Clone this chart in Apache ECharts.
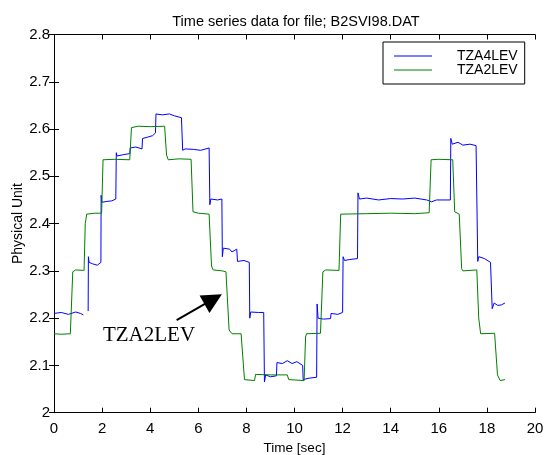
<!DOCTYPE html>
<html><head><meta charset="utf-8">
<script src="https://cdn.jsdelivr.net/npm/echarts@6/dist/echarts.min.js"></script>
<style>html,body{margin:0;padding:0;background:#fff}#c{width:544px;height:455px}</style>
</head><body><div id="c"></div>
<script>
const titleText = "Time series data for file; B2SVI98.DAT";
const xName = "Time [sec]";
const yName = "Physical Unit";
const seriesNames = ["TZA4LEV", "TZA2LEV"];
const xTicks = [0, 2, 4, 6, 8, 10, 12, 14, 16, 18, 20];
const yTicks = [2, 2.1, 2.2, 2.3, 2.4, 2.5, 2.6, 2.7, 2.8];

const blueT = [0,0.3,0.6,0.9,1.1,1.22,1.3,1.42,1.43,1.46,1.6,1.8,1.95,1.96,1.99,2.2,2.4,2.57,2.59,2.62,2.9,3.15,3.17,3.4,3.66,3.68,3.75,3.9,4.1,4.22,4.24,4.5,4.8,5.0,5.3,5.35,5.45,5.8,6.1,6.45,6.48,6.52,6.8,6.98,7.0,7.04,7.3,7.4,7.6,7.63,7.9,8.12,8.14,8.18,8.5,8.72,8.75,8.8,9.0,9.25,9.27,9.5,9.7,9.9,10.1,10.34,10.36,10.6,10.92,10.94,10.98,11.2,11.5,11.52,11.8,12.0,12.02,12.08,12.3,12.62,12.64,12.7,13.0,13.5,14.0,14.5,15.0,15.5,15.7,15.9,16.48,16.5,16.56,16.8,17.0,17.3,17.55,17.62,17.66,17.9,18.15,18.22,18.3,18.45,18.6,18.75];
const blueV = [2.21,2.212,2.208,2.213,2.21,2.207,'-',2.215,2.33,2.318,2.315,2.312,2.318,2.46,2.445,2.447,2.448,2.452,2.55,2.543,2.546,2.548,2.56,2.562,2.558,2.58,2.576,2.583,2.586,2.592,2.632,2.63,2.632,2.628,2.624,2.555,2.558,2.557,2.555,2.56,2.44,2.452,2.45,2.452,2.33,2.348,2.346,2.34,2.346,2.32,2.322,2.318,2.2,2.213,2.212,2.212,2.065,2.08,2.076,2.078,2.106,2.104,2.11,2.104,2.108,2.1,2.07,2.073,2.075,2.23,2.2,2.198,2.199,2.21,2.208,2.212,2.33,2.322,2.324,2.326,2.465,2.452,2.454,2.45,2.453,2.452,2.454,2.45,2.446,2.45,2.45,2.58,2.568,2.572,2.566,2.568,2.565,2.32,2.33,2.326,2.318,2.22,2.232,2.227,2.228,2.232];

const greenT = [0,0.3,0.68,0.78,0.9,1.25,1.3,1.36,1.7,1.98,2.04,2.5,3.15,3.22,3.5,4.0,4.6,4.68,4.75,5.2,5.7,5.78,6.0,6.45,6.55,6.62,7.0,7.15,7.28,7.4,7.78,7.92,8.34,8.38,9.0,9.7,9.76,10.4,10.46,10.5,11.08,11.18,11.3,11.85,11.92,12.0,13.0,14.0,15.0,15.6,15.68,16.0,16.58,16.66,16.85,16.95,17.0,17.58,17.66,17.74,18.32,18.44,18.55,18.75];
const greenV = [2.167,2.166,2.167,2.298,2.302,2.301,2.4,2.42,2.422,2.422,2.535,2.536,2.535,2.603,2.606,2.605,2.606,2.545,2.535,2.537,2.536,2.425,2.422,2.42,2.31,2.302,2.3,2.298,2.175,2.167,2.167,2.07,2.068,2.081,2.08,2.08,2.07,2.068,2.16,2.167,2.168,2.298,2.302,2.301,2.42,2.422,2.421,2.422,2.421,2.423,2.535,2.536,2.535,2.425,2.42,2.305,2.3,2.302,2.2,2.167,2.168,2.08,2.068,2.07];

const annoText = "TZA2LEV";
const arrowFrom = [5.10, 2.196];
const arrowTo = [6.62, 2.240];
const annoAt = [3.95, 2.164];

const pairs = (t, v) => t.map((x, i) => [x, v[i]]);
const font = "'Liberation Sans', Arial, sans-serif";
const chart = echarts.init(document.getElementById('c'), null, {renderer: 'canvas'});
const xCommon = {type: 'value', min: xTicks[0], max: xTicks[xTicks.length-1], interval: 2,
  splitLine: {show: false}, axisLine: {show: true, lineStyle: {color: '#000', width: 1}},
  axisTick: {show: true, inside: true, length: 5, lineStyle: {color: '#000'}}};
const yCommon = {type: 'value', min: yTicks[0], max: yTicks[yTicks.length-1], interval: 0.1,
  splitLine: {show: false}, axisLine: {show: true, lineStyle: {color: '#000', width: 1}},
  axisTick: {show: true, inside: true, length: 5, lineStyle: {color: '#000'}}};
chart.setOption({
  animation: false,
  backgroundColor: '#fff',
  title: {text: titleText, left: 291, top: 9, textAlign: 'center',
    textStyle: {fontFamily: font, fontSize: 14.5, fontWeight: 'normal', color: '#000'}},
  grid: {left: 54, right: 9, top: 34.5, bottom: 42.3, containLabel: false, outerBoundsMode: 'none'},
  legend: {orient: 'vertical', left: 383, top: 42, data: seriesNames,
    backgroundColor: '#fff', borderColor: '#000', borderWidth: 1, borderRadius: 0,
    padding: [7, 7, 7, 11], itemGap: 0, itemWidth: 38, itemHeight: 1.2, icon: 'rect',
    textStyle: {fontFamily: font, fontSize: 14, color: '#000', padding: [0, 0, 0, 20], lineHeight: 14}},
  xAxis: [
    Object.assign({}, xCommon, {position: 'bottom', name: xName, nameLocation: 'middle', nameGap: 29,
      nameMoveOverlap: false,
      nameTextStyle: {fontFamily: font, fontSize: 13.5, color: '#000'},
      axisLabel: {fontFamily: font, fontSize: 15, color: '#000', margin: 9}}),
    Object.assign({}, xCommon, {position: 'top', axisLabel: {show: false}})
  ],
  yAxis: [
    Object.assign({}, yCommon, {position: 'left', name: yName, nameLocation: 'middle', nameGap: 29,
      nameMoveOverlap: false,
      nameTextStyle: {fontFamily: font, fontSize: 14, color: '#000'},
      axisLabel: {fontFamily: font, fontSize: 15, color: '#000', margin: 4}}),
    Object.assign({}, yCommon, {position: 'right', axisLabel: {show: false}})
  ],
  series: [
    {name: seriesNames[0], type: 'line', data: pairs(blueT, blueV), symbol: 'none',
      lineStyle: {color: '#0000ff', width: 1}, itemStyle: {color: '#0000ff'}, connectNulls: false},
    {name: seriesNames[1], type: 'line', data: pairs(greenT, greenV), symbol: 'none',
      lineStyle: {color: '#008000', width: 1}, itemStyle: {color: '#008000'},
      markLine: {silent: true, symbol: ['none', 'triangle'], symbolSize: 20, animation: false,
        lineStyle: {color: '#000', width: 2, type: 'solid'}, itemStyle: {color: '#000'},
        label: {show: false},
        data: [[{coord: arrowFrom}, {coord: arrowTo}]]},
      markPoint: {silent: true, symbol: 'circle', symbolSize: 0, animation: false,
        label: {show: true, position: 'inside', formatter: annoText,
          fontFamily: "'Liberation Serif', 'Times New Roman', serif", fontSize: 21, color: '#000'},
        data: [{coord: annoAt}]}}
  ]
});
</script></body></html>
